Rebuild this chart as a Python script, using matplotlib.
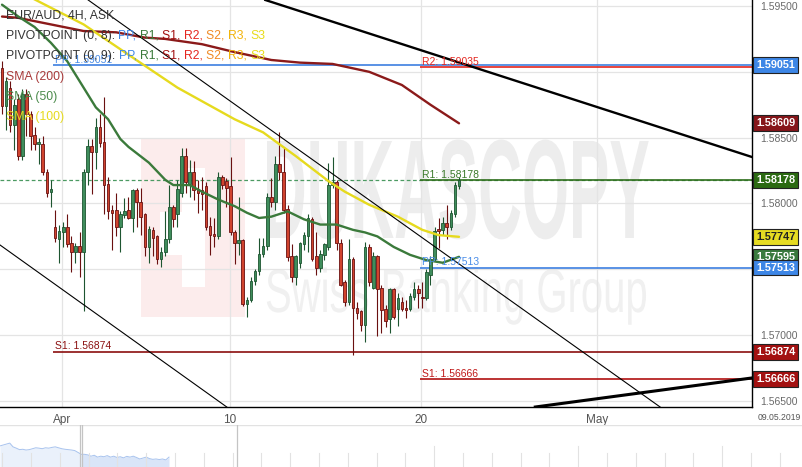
import matplotlib
matplotlib.use("Agg")
import matplotlib.pyplot as plt
import matplotlib.transforms as mtransforms
from matplotlib.transforms import Affine2D
from matplotlib.patches import Rectangle
from matplotlib.patheffects import AbstractPathEffect
from matplotlib import font_manager as fm
import numpy as np

plt.rcParams['font.family'] = ['Liberation Sans', 'DejaVu Sans']

# ---------------- data (EUR/AUD 4H candles) ----------------
opens = [1.5903, 1.5874, 1.5888, 1.5860, 1.5879, 1.5836, 1.5883, 1.5868, 1.5852, 1.5845,
         1.5845, 1.5824, 1.5809, 1.5782, 1.5773, 1.5778, 1.5782, 1.5770, 1.5763, 1.5768,
         1.5763, 1.5824, 1.5844, 1.5839, 1.5858, 1.5847, 1.5815, 1.5795, 1.5795, 1.5782,
         1.5791, 1.5795, 1.5789, 1.5810, 1.5801, 1.5792, 1.5767, 1.5780, 1.5775, 1.5758,
         1.5763, 1.5773, 1.5797, 1.5792, 1.5808, 1.5836, 1.5815, 1.5824, 1.5811, 1.5810,
         1.5813, 1.5783, 1.5777, 1.5775, 1.5820, 1.5817, 1.5813, 1.5778, 1.5770, 1.5772,
         1.5724, 1.5727, 1.5741, 1.5749, 1.5762, 1.5768, 1.5805, 1.5801, 1.5830, 1.5824,
         1.5796, 1.5760, 1.5744, 1.5755, 1.5769, 1.5775, 1.5788, 1.5760, 1.5751, 1.5761,
         1.5767, 1.5814, 1.5816, 1.5770, 1.5740, 1.5725, 1.5758, 1.5721, 1.5718, 1.5708,
         1.5767, 1.5736, 1.5760, 1.5736, 1.5720, 1.5712, 1.5735, 1.5720, 1.5725, 1.5721,
         1.5720, 1.5729, 1.5735, 1.5729, 1.5728, 1.5746, 1.5758, 1.5781, 1.5780, 1.5785,
         1.5782, 1.5792, 1.5813]
highs = [1.5908, 1.5896, 1.5893, 1.5879, 1.5883, 1.5887, 1.5887, 1.5870, 1.5858, 1.5850,
         1.5851, 1.5826, 1.5818, 1.5795, 1.5784, 1.5786, 1.5792, 1.5775, 1.5770, 1.5778,
         1.5826, 1.5849, 1.5849, 1.5865, 1.5868, 1.5881, 1.5820, 1.5799, 1.5808, 1.5794,
         1.5804, 1.5805, 1.5811, 1.5812, 1.5812, 1.5793, 1.5783, 1.5782, 1.5776, 1.5767,
         1.5794, 1.5814, 1.5799, 1.5818, 1.5842, 1.5842, 1.5833, 1.5832, 1.5818, 1.5820,
         1.5816, 1.5790, 1.5789, 1.5824, 1.5822, 1.5819, 1.5835, 1.5780, 1.5805, 1.5773,
         1.5729, 1.5744, 1.5750, 1.5774, 1.5774, 1.5808, 1.5819, 1.5836, 1.5854, 1.5843,
         1.5799, 1.5769, 1.5761, 1.5771, 1.5778, 1.5792, 1.5790, 1.5778, 1.5765, 1.5770,
         1.5831, 1.5835, 1.5818, 1.5773, 1.5742, 1.5773, 1.5759, 1.5725, 1.5719, 1.5771,
         1.5769, 1.5763, 1.5761, 1.5738, 1.5723, 1.5736, 1.5736, 1.5732, 1.5729, 1.5727,
         1.5732, 1.5740, 1.5738, 1.5740, 1.5750, 1.5760, 1.5782, 1.5789, 1.5790, 1.5799,
         1.5795, 1.5816, 1.5820]
lows = [1.5868, 1.5856, 1.5854, 1.5841, 1.5833, 1.5833, 1.5851, 1.5841, 1.5841, 1.5830,
        1.5822, 1.5805, 1.5797, 1.5771, 1.5755, 1.5767, 1.5767, 1.5748, 1.5755, 1.5744,
        1.5718, 1.5814, 1.5807, 1.5826, 1.5843, 1.5792, 1.5788, 1.5765, 1.5775, 1.5763,
        1.5789, 1.5788, 1.5778, 1.5782, 1.5776, 1.5760, 1.5755, 1.5760, 1.5754, 1.5752,
        1.5760, 1.5770, 1.5782, 1.5782, 1.5805, 1.5808, 1.5805, 1.5803, 1.5793, 1.5795,
        1.5780, 1.5761, 1.5767, 1.5773, 1.5811, 1.5797, 1.5776, 1.5754, 1.5761, 1.5722,
        1.5714, 1.5725, 1.5738, 1.5746, 1.5759, 1.5765, 1.5797, 1.5795, 1.5818, 1.5793,
        1.5756, 1.5740, 1.5738, 1.5751, 1.5765, 1.5763, 1.5756, 1.5746, 1.5748, 1.5757,
        1.5765, 1.5812, 1.5765, 1.5737, 1.5722, 1.5723, 1.5685, 1.5712, 1.5703, 1.5695,
        1.5737, 1.5735, 1.5699, 1.5702, 1.5706, 1.5702, 1.5712, 1.5707, 1.5718, 1.5713,
        1.5718, 1.5727, 1.5721, 1.5721, 1.5727, 1.5738, 1.5756, 1.5766, 1.5776, 1.5773,
        1.5780, 1.5790, 1.5811]
closes = [1.5874, 1.5893, 1.5860, 1.5875, 1.5836, 1.5883, 1.5868, 1.5851, 1.5845, 1.5847,
          1.5824, 1.5808, 1.5811, 1.5774, 1.5779, 1.5782, 1.5769, 1.5763, 1.5768, 1.5763,
          1.5824, 1.5844, 1.5839, 1.5858, 1.5846, 1.5814, 1.5794, 1.5793, 1.5782, 1.5792,
          1.5794, 1.5789, 1.5810, 1.5801, 1.5790, 1.5767, 1.5781, 1.5774, 1.5758, 1.5763,
          1.5773, 1.5797, 1.5788, 1.5811, 1.5836, 1.5816, 1.5824, 1.5810, 1.5808, 1.5807,
          1.5782, 1.5776, 1.5775, 1.5820, 1.5814, 1.5812, 1.5778, 1.5770, 1.5772, 1.5724,
          1.5727, 1.5741, 1.5749, 1.5762, 1.5768, 1.5805, 1.5801, 1.5830, 1.5824, 1.5795,
          1.5759, 1.5744, 1.5760, 1.5770, 1.5776, 1.5789, 1.5758, 1.5751, 1.5762, 1.5769,
          1.5814, 1.5816, 1.5770, 1.5738, 1.5725, 1.5758, 1.5721, 1.5717, 1.5708, 1.5767,
          1.5740, 1.5760, 1.5735, 1.5719, 1.5711, 1.5735, 1.5714, 1.5728, 1.5720, 1.5719,
          1.5730, 1.5735, 1.5732, 1.5728, 1.5748, 1.5758, 1.5779, 1.5779, 1.5785, 1.5782,
          1.5793, 1.5814, 1.58178]

# moving averages (bar index, value)
sma50_idx = [0, 4, 8, 12, 16, 20, 23, 26, 29, 31, 36, 40, 42, 46, 49, 53, 57, 60, 63, 66,
             70, 74, 78, 82, 86, 89, 92, 96, 100, 104, 108, 112]
sma50_val = [1.5951, 1.5942, 1.5934, 1.5922, 1.5908, 1.5888, 1.5873, 1.5864, 1.5849, 1.5843,
             1.5831, 1.5818, 1.5814, 1.5814, 1.5809, 1.5803, 1.5798, 1.5793, 1.5789, 1.5790,
             1.5794, 1.5788, 1.5784, 1.5784, 1.5780, 1.5778, 1.5775, 1.5767, 1.5761, 1.5757,
             1.5755, 1.57595]
sma100_idx = [0, 8, 20, 31, 43, 57, 64, 72, 80, 84, 90, 97, 103, 107, 112]
sma100_val = [1.5968, 1.5955, 1.5936, 1.5913, 1.5888, 1.5864, 1.5854, 1.5836, 1.5817, 1.5809,
              1.5799, 1.5790, 1.5780, 1.5776, 1.57747]
sma200_idx = [0, 4, 12, 20, 28, 35, 40, 49, 57, 66, 73, 81, 90, 98, 105, 112]
sma200_val = [1.5942, 1.5941, 1.5936, 1.5931, 1.5930, 1.5926, 1.5925, 1.5921, 1.5915, 1.5909,
              1.5907, 1.5906, 1.5900, 1.5890, 1.5875, 1.58609]

# trend lines: two anchor points each (bar index, price)
trend_thick_upper = [(64.5, 1.59546), (183.8, 1.58353)]
trend_thin_upper = [(21.1, 1.59546), (161.3, 1.56454)]
trend_thin_lower = [(-0.49, 1.57685), (55.1, 1.56454)]
trend_thick_lower = [(130.6, 1.56454), (183.8, 1.56675)]

# pivot points
pivot_names = ['PP', 'S1', 'R2', 'R1', 'PP', 'S1']
pivot_values = [1.59051, 1.56874, 1.59035, 1.58178, 1.57513, 1.56666]
pivot_start = [12.5, 12.5, 102.5, 102.5, 102.5, 102.5]
pivot_colors = ['#3d7fe0', '#8b0e0e', '#e4261f', '#2f6e1c', '#3d7fe0', '#b01010']
pivot_label_colors = ['#4a8de8', '#8b1010', '#e4261f', '#3b7a2a', '#4a8de8', '#c01818']

current_price = 1.58178

# right-hand price tags
tag_values = [1.59051, 1.58609, 1.58178, 1.57747, 1.57595, 1.57513, 1.56874, 1.56666]
tag_colors = ['#3d86e6', '#86161a', '#2b6a12', '#e6db22', '#3a7a3e', '#3d86e6', '#a31111', '#a31111']
tag_text_colors = ['white', 'white', 'white', '#222222', 'white', 'white', 'white', 'white']

price_ticks = [1.565, 1.570, 1.575, 1.580, 1.585, 1.590, 1.595]
price_tick_labels = ['1.56500', '1.57000', '', '1.58000', '1.58500', '', '1.59500']
date_tick_pos = [14.7, 55.9, 102.7, 145.8]
date_tick_labels = ['Apr', '10', '20', 'May']

nav_values = [100, 105, 110, 115, 95, 88, 80, 82, 78, 80, 85, 90, 88, 85, 90, 88, 92, 95,
              90, 85, 82, 80, 78, 75, 65, 55, 55, 52, 45, 50, 40, 45, 42, 48, 40, 45, 38,
              42, 36, 44, 40, 45, 38, 30, 35, 40, 32, 28, 30, 27, 30, 25, 40]

# ---------------- layout ----------------
W, H = 803, 467
PW, PH = 752, 407
fig = plt.figure(figsize=(W / 100, H / 100), dpi=100)
fig.patch.set_facecolor('white')
ax = fig.add_axes([0, (H - PH) / H, PW / W, PH / H])
ax.set_facecolor('white')
ax.set_xlim(-0.49, 183.8)
ax.set_ylim(1.564544, 1.595456)


def axpx(px, py):
    return px / PW, 1 - py / PH


class VStretch(AbstractPathEffect):
    """Stretch glyphs vertically about their baseline (watermark lettering)."""
    def __init__(self, sy, y0):
        super().__init__()
        self.sy = sy
        self.y0 = y0

    def draw_path(self, renderer, gc, tpath, affine, rgbFace=None):
        a = affine + Affine2D().translate(0, -self.y0).scale(1, self.sy).translate(0, self.y0)
        renderer.draw_path(gc, tpath, a, rgbFace)


# grid
for v in price_ticks:
    ax.axhline(v, color='#e4e4e4', lw=0.9, zorder=0.5)
for p in date_tick_pos:
    ax.axvline(p, color='#e4e4e4', lw=0.9, zorder=0.5)

# watermark
names = {f.name for f in fm.fontManager.ttflist}
wm_font = 'Liberation Sans Narrow' if 'Liberation Sans Narrow' in names else 'Liberation Sans'
x0, y0 = axpx(141, 317)
x1, y1 = axpx(245, 138)
ax.add_patch(Rectangle((x0, y0), x1 - x0, y1 - y0, transform=ax.transAxes,
                       facecolor='#fcecec', edgecolor='none', zorder=0.2))
for (a, b, c, d) in [(182, 168, 205, 287), (160, 212, 182, 255)]:
    xa, ya = axpx(a, d)
    xb, yb = axpx(c, b)
    ax.add_patch(Rectangle((xa, ya), xb - xa, yb - ya, transform=ax.transAxes,
                           facecolor='white', edgecolor='none', zorder=0.25))
wm1 = ax.text(*axpx(263, 238), 'DUKASCOPY', transform=ax.transAxes, fontsize=60,
              fontweight='bold', family=wm_font, color='#ededed', ha='left', va='baseline', zorder=0.3)
wm2 = ax.text(*axpx(265, 312), 'Swiss Banking Group', transform=ax.transAxes, fontsize=30,
              family=wm_font, color='#f0f0f0', ha='left', va='baseline', zorder=0.3)
fig.canvas.draw()
r = fig.canvas.get_renderer()
for t, target, cap_px, base_py in [(wm1, 387, 101, 238), (wm2, 382, 44, 312)]:
    w = t.get_window_extent(r).width
    t.set_fontsize(t.get_fontsize() * target / w)
    fs_px = t.get_fontsize() * 100 / 72
    sy = cap_px / (0.716 * fs_px)
    base_disp = ax.transAxes.transform(axpx(0, base_py))[1]
    t.set_path_effects([VStretch(sy, base_disp)])

# current price dashed line
ax.axhline(current_price, color='#4c9a62', lw=0.9, ls=(0, (3, 2)), zorder=1)

# pivot lines and labels
for name, val, st, c, lc in zip(pivot_names, pivot_values, pivot_start, pivot_colors, pivot_label_colors):
    ax.plot([st, 183.8], [val, val], color=c, lw=1.2, zorder=1.2, solid_capstyle='butt')
    ax.annotate(f'{name}: {val:.5f}', xy=(st, val), xytext=(2, 0.5), textcoords='offset pixels',
                fontsize=7.5, color=lc, ha='left', va='bottom', zorder=6)

# candles
xs = np.arange(len(opens))
for x, o, h, l, c in zip(xs, opens, highs, lows, closes):
    up = c >= o
    wick = '#1d5530' if up else '#6a1010'
    fill = '#3f8d5c' if up else '#d0432e'
    ax.vlines(x, min(l, o, c), max(h, o, c), color=wick, lw=0.8, zorder=3)
    bottom = min(o, c)
    height = max(abs(c - o), 0.00003)
    ax.add_patch(Rectangle((x - 0.32, bottom), 0.64, height, facecolor=fill,
                           edgecolor=wick, lw=0.6, zorder=3.1))

# moving averages
ax.plot(sma200_idx, sma200_val, color='#8b1a1a', lw=1.7, zorder=4, solid_capstyle='round')
ax.plot(sma100_idx, sma100_val, color='#e6da1e', lw=1.7, zorder=4, solid_capstyle='round')
ax.plot(sma50_idx, sma50_val, color='#3b7a3b', lw=1.7, zorder=4, solid_capstyle='round')

# trend lines
for pts, lw in [(trend_thick_upper, 1.7), (trend_thin_upper, 0.8),
                (trend_thin_lower, 0.8), (trend_thick_lower, 2.2)]:
    ax.axline(pts[0], pts[1], color='black', lw=lw, zorder=5)

# axes styling
for s in ['top', 'left']:
    ax.spines[s].set_visible(False)
for s in ['right', 'bottom']:
    ax.spines[s].set_color('black')
    ax.spines[s].set_linewidth(1.0)
ax.yaxis.tick_right()
ax.set_yticks(price_ticks)
ax.set_yticklabels(price_tick_labels)
ax.tick_params(axis='y', length=0, pad=6, labelsize=7.5, labelcolor='#6a6a6a')
ax.set_xticks(date_tick_pos)
ax.set_xticklabels(date_tick_labels)
ax.tick_params(axis='x', length=0, pad=5, labelsize=8.5, labelcolor='#555555')

# right price tags
blend = mtransforms.blended_transform_factory(ax.transAxes, ax.transData)
for v, fc, tc in zip(tag_values, tag_colors, tag_text_colors):
    ax.text((PW + 4) / PW, v, f'{v:.5f}', transform=blend, ha='left', va='center',
            fontsize=7.8, fontweight='bold', color=tc, clip_on=False, zorder=10,
            bbox=dict(boxstyle='square,pad=0.26', fc=fc, ec='#222222', lw=0.8))

fig.text(801 / W, 1 - 418 / H, '09.05.2019', fontsize=6.2, color='#555555', ha='right', va='center')


# legend text (top-left), pieces placed on a common baseline
def chain(px, py, parts, fs=8.8):
    x, y = axpx(px, py)
    rr = fig.canvas.get_renderer()
    for s, c in parts:
        t = ax.text(x, y, s, transform=ax.transAxes, fontsize=fs, color=c,
                    ha='left', va='baseline', zorder=9)
        bb = t.get_window_extent(rr)
        x = ax.transAxes.inverted().transform((bb.x1, bb.y0))[0]


dark = '#333333'
piv_cols = ['#3d86e6', '#3b7a3b', '#a31111', '#e4261f', '#f08a24', '#f2b40c', '#e8dc1a']
piv_names = ['PP', 'R1', 'S1', 'R2', 'S2', 'R3', 'S3']
chain(6, 19, [('EUR/AUD, 4H, ASK', dark)])
for py, lab in [(39, 'PIVOTPOINT (0, 8): '), (59, 'PIVOTPOINT (0, 9): ')]:
    parts = [(lab, dark)]
    for k, (n, c) in enumerate(zip(piv_names, piv_cols)):
        parts.append((n + (', ' if k < len(piv_names) - 1 else ''), c))
    chain(6, py, parts)
chain(6, 80, [('SMA (200)', '#a83a3a')])
chain(6, 100, [('SMA (50)', '#4a8a4a')])
chain(6, 120, [('SMA (100)', '#e6da1e')])

# navigator
nav = fig.add_axes([0, 0, 1, 42 / H])
nav.set_xlim(0, W / 3.25)
nav.set_ylim(-13, 212)
nav.axis('off')
nx = np.arange(len(nav_values))
sel = 80 / 3.25
nav.fill_between(nx, -13, nav_values, where=nx <= sel + 0.5, color='#eaf1fb', lw=0)
nav.fill_between(nx, -13, nav_values, where=nx >= sel - 0.5, color='#d9e5f8', lw=0)
nav.plot(nx, nav_values, color='#a8c3ee', lw=0.7)
nav.axhline(212, color='#e2e2e2', lw=1)
for k in range(28):
    gx = (2.2 + 28.8 * k) / 3.25
    top = 100 if k in (15, 20, 25) else 60
    nav.plot([gx, gx], [-13, top], color='#e2e2e2', lw=0.8)
for hx in (80, 82, 237):
    nav.plot([hx / 3.25, hx / 3.25], [-13, 212], color='#c4c4c4', lw=0.9)

fig.savefig('out.png', dpi=100, facecolor='white')
